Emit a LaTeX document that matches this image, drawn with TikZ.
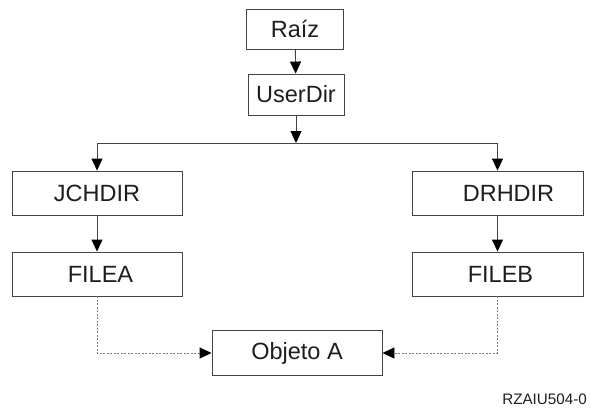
\documentclass[tikz,border=0pt]{standalone}
\usepackage{fontspec}
\setmainfont{Liberation Sans}
\usetikzlibrary{arrows.meta}
\definecolor{linec}{HTML}{444444}
\definecolor{textc}{HTML}{1E1E1E}
\tikzset{
  box/.style={draw=linec, line width=0.9bp, fill=white, inner sep=0pt, text=textc,
    font=\fontsize{23.5bp}{28bp}\selectfont},
  arr/.style={draw=linec, line width=0.9bp, -{Triangle[width=11bp,length=12bp,color=black]}},
  dot/.style={draw=gray, line width=0.9bp, dash pattern=on 2bp off 1.5bp, -{Triangle[width=11bp,length=12bp,color=black]}},
}
\begin{document}
\begin{tikzpicture}[x=1bp,y=-1bp]
\useasboundingbox (0,0) rectangle (591,411);
\node[box, minimum width=97bp, minimum height=40bp] (raiz) at (295,29) {Raíz};
\node[box, minimum width=96bp, minimum height=41bp] (userdir) at (296,94.5) {UserDir};
\coordinate (split) at (296,143);
\node[box, minimum width=170bp, minimum height=44bp] (jchdir) at (97,193) {JCHDIR};
\node[box, minimum width=171bp, minimum height=44bp] (drhdir) at (497.5,193) {\hspace*{22bp}DRHDIR};
\node[box, minimum width=170bp, minimum height=44bp] (filea) at (97,274) {\hspace*{7bp}FILEA};
\node[box, minimum width=171bp, minimum height=44bp] (fileb) at (497.5,274) {\hspace*{6bp}FILEB};
\node[box, minimum width=170bp, minimum height=45bp] (objeto) at (297,353) {Objeto A};
\node[anchor=east, inner sep=0pt, text=textc, font=\fontsize{15.2bp}{18bp}\selectfont] (label) at (587,399) {RZAIU504-0};
\draw[arr] (raiz) -- (userdir);
\draw[arr] (userdir.south) -- (split);
\draw[arr] (split) -| (jchdir.north);
\draw[arr] (split) -| (drhdir.north);
\draw[arr] (jchdir) -- (filea);
\draw[arr] (drhdir) -- (fileb);
\draw[dot] (filea.south) |- (objeto.west);
\draw[dot] (fileb.south) |- (objeto.east);
\end{tikzpicture}
\end{document}
